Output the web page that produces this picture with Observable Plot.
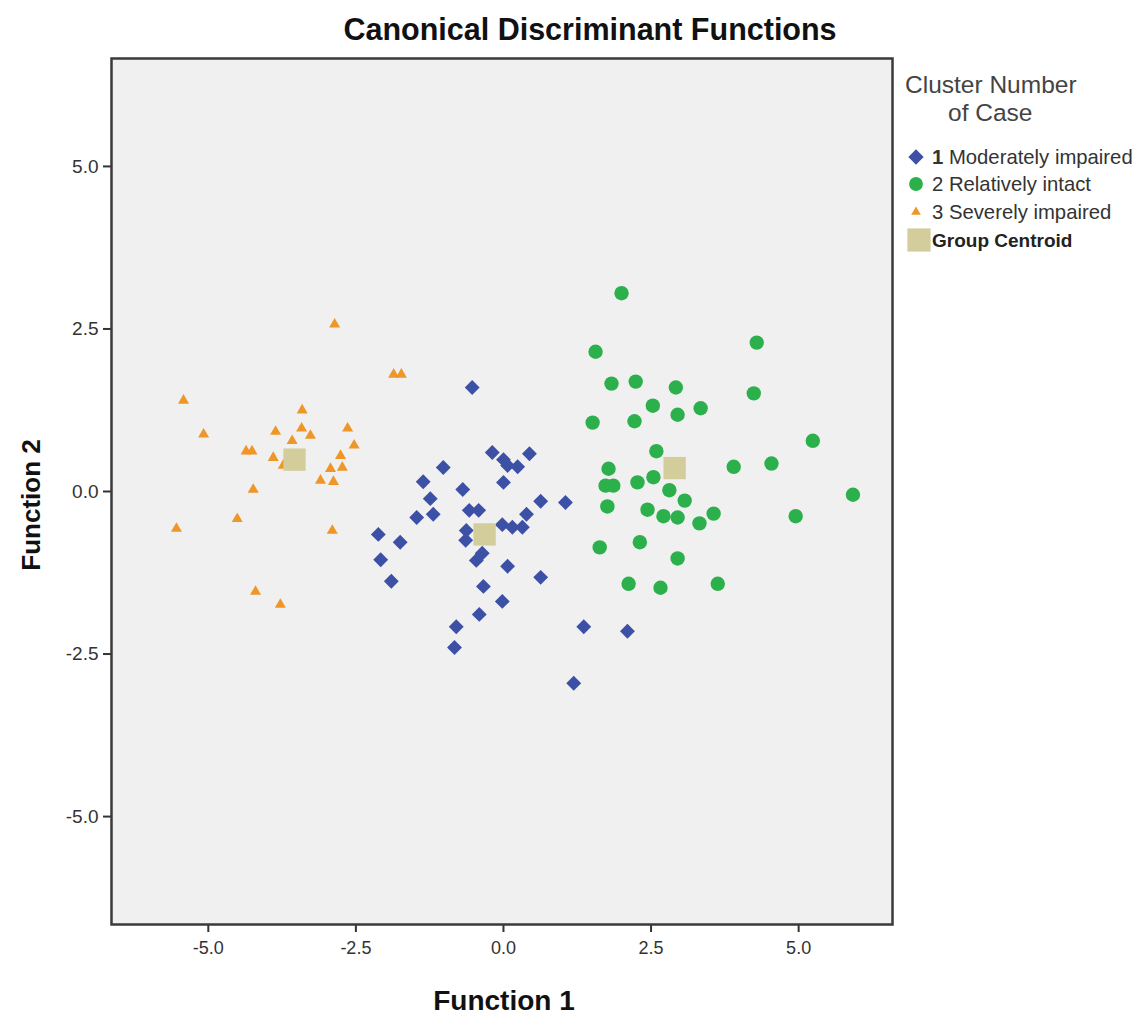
<!DOCTYPE html>
<html>
<head>
<meta charset="utf-8">
<script src="https://cdn.jsdelivr.net/npm/d3@7"></script>
<script src="https://cdn.jsdelivr.net/npm/@observablehq/plot@0.6"></script>
<style>
  body { margin: 0; background: #fff; }
  #wrap { position: relative; width: 1143px; height: 1017px; overflow: hidden; }
  #chart, #overlay { position: absolute; left: 0; top: 0; }
  #overlay { pointer-events: none; }
  text { font-family: "Liberation Sans", Arial, sans-serif; }
</style>
</head>
<body>
<div id="wrap">
  <div id="chart"></div>
  <svg id="overlay" width="1143" height="1017"></svg>
</div>
<script>
// ---- Data ----
const groupNames = ["1 Moderately impaired", "2 Relatively intact", "3 Severely impaired", "Group Centroid"];
const xTicks = [-5, -2.5, 0, 2.5, 5];
const yTicks = [-5, -2.5, 0, 2.5, 5];

const moderateX = [-0.53, -0.19, 0.00, 0.07, 0.24, 0.44, 0.00, -1.02, -1.36, -1.24, -0.69, -1.47, -1.19, -0.58, -0.42, -0.63, -0.64, -0.02, 0.15, 0.32, 0.39, 0.63, 1.05, -2.12, -1.75, -2.08, -1.90, -0.46, -0.36, 0.07, 0.63, -0.34, -0.02, -0.41, -0.80, -0.83, 1.36, 1.19, 2.10];
const moderateY = [1.60, 0.60, 0.49, 0.40, 0.38, 0.58, 0.14, 0.37, 0.15, -0.11, 0.03, -0.40, -0.35, -0.29, -0.29, -0.60, -0.75, -0.51, -0.55, -0.55, -0.35, -0.15, -0.17, -0.66, -0.78, -1.05, -1.38, -1.06, -0.95, -1.15, -1.32, -1.46, -1.69, -1.89, -2.08, -2.40, -2.08, -2.95, -2.15];

const intactX = [2.00, 1.56, 1.83, 2.24, 2.92, 2.53, 2.95, 3.34, 1.51, 2.22, 2.59, 1.78, 1.73, 1.86, 2.27, 2.54, 2.81, 3.07, 1.76, 2.44, 2.71, 2.95, 3.56, 3.32, 3.90, 4.54, 4.29, 4.24, 1.63, 2.31, 2.95, 2.12, 2.66, 3.63, 5.24, 5.92, 4.95];
const intactY = [3.05, 2.15, 1.66, 1.69, 1.60, 1.32, 1.18, 1.28, 1.06, 1.08, 0.62, 0.35, 0.09, 0.09, 0.14, 0.22, 0.02, -0.14, -0.23, -0.28, -0.38, -0.40, -0.34, -0.49, 0.38, 0.43, 2.29, 1.51, -0.86, -0.78, -1.03, -1.42, -1.48, -1.42, 0.78, -0.05, -0.38];

const severeX = [-2.86, -1.86, -1.73, -5.42, -5.08, -3.41, -3.86, -3.42, -3.27, -3.58, -2.64, -2.53, -4.36, -4.26, -3.90, -2.76, -2.73, -2.93, -3.10, -2.88, -3.73, -4.24, -4.51, -5.54, -2.90, -4.20, -3.78];
const severeY = [2.57, 1.80, 1.80, 1.40, 0.88, 1.25, 0.92, 0.97, 0.86, 0.78, 0.97, 0.71, 0.62, 0.62, 0.52, 0.55, 0.37, 0.35, 0.17, 0.15, 0.40, 0.03, -0.42, -0.57, -0.60, -1.54, -1.74];

const centroidX = [-0.32, 2.90, -3.54];
const centroidY = [-0.66, 0.36, 0.49];

// ---- Styles ----
const colors = { moderate: "#3c51a6", intact: "#2cb04b", severe: "#ef9629", centroid: "#d3cd9c" };

const toRows = (xs, ys) => xs.map((x, i) => ({ x, y: ys[i] }));
const moderate = toRows(moderateX, moderateY);
const intact = toRows(intactX, intactY);
const severe = toRows(severeX, severeY);
const centroids = toRows(centroidX, centroidY);

const fmt = d => d.toFixed(1);

const chart = Plot.plot({
  width: 1143,
  height: 1017,
  marginLeft: 111,
  marginRight: 251,
  marginTop: 58,
  marginBottom: 93,
  style: { fontFamily: "Liberation Sans, Arial, sans-serif", background: "transparent", color: "#333" },
  x: { domain: [-6.64, 6.59] },
  y: { domain: [-6.66, 6.66] },
  marks: [
    Plot.frame({ fill: "#f0f0f0" }),
    Plot.axisX({ ticks: xTicks, tickFormat: fmt, tickSize: 8, tickPadding: 9, strokeWidth: 2, fontSize: 18, label: null, color: "#333" }),
    Plot.axisY({ ticks: yTicks, tickFormat: fmt, tickSize: 8, tickPadding: 5, strokeWidth: 2, fontSize: 19, label: null, color: "#333" }),
    Plot.dot(moderate, { x: "x", y: "y", symbol: "diamond2", r: 6.7, fill: colors.moderate, stroke: "none" }),
    Plot.dot(intact, { x: "x", y: "y", symbol: "circle", r: 7.2, fill: colors.intact, stroke: "none" }),
    Plot.dot(severe, { x: "x", y: "y", symbol: "triangle", r: 4.1, fill: colors.severe, stroke: "none" }),
    Plot.dot(centroids, { x: "x", y: "y", symbol: "square", r: 12.6, fill: colors.centroid, stroke: "none" }),
    Plot.frame({ stroke: "#3a3a3a", strokeWidth: 2.5 })
  ]
});
document.getElementById("chart").appendChild(chart);

// ---- Title, axis titles and legend (overlay) ----
const ov = d3.select("#overlay");
ov.append("text").attr("x", 590).attr("y", 40).attr("text-anchor", "middle")
  .attr("font-size", 30.5).attr("font-weight", "bold").attr("fill", "#111")
  .text("Canonical Discriminant Functions");
ov.append("text").attr("x", 504).attr("y", 1010).attr("text-anchor", "middle")
  .attr("font-size", 28).attr("font-weight", "bold").attr("fill", "#111")
  .text("Function 1");
ov.append("text").attr("transform", "translate(40,505) rotate(-90)").attr("text-anchor", "middle")
  .attr("font-size", 26).attr("font-weight", "bold").attr("fill", "#111")
  .text("Function 2");

// legend
ov.append("text").attr("x", 905).attr("y", 93).attr("font-size", 24.5).attr("fill", "#444").text("Cluster Number");
ov.append("text").attr("x", 948).attr("y", 121).attr("font-size", 24.5).attr("fill", "#444").text("of Case");

const legendRows = [
  { label: groupNames[0], cy: 157, sym: d3.symbolDiamond2, size: 150, color: colors.moderate },
  { label: groupNames[1], cy: 184, sym: d3.symbolCircle, size: 150, color: colors.intact },
  { label: groupNames[2], cy: 212, sym: d3.symbolTriangle, size: 40, color: colors.severe },
  { label: groupNames[3], cy: 240, sym: d3.symbolSquare, size: 540, color: colors.centroid }
];
legendRows.forEach((r, i) => {
  ov.append("path").attr("d", d3.symbol(r.sym, r.size)()).attr("fill", r.color)
    .attr("transform", `translate(${i === 3 ? 919 : 916},${r.cy})`);
  const t = ov.append("text").attr("x", 932).attr("y", r.cy + 7).attr("font-size", 20.3).attr("fill", "#333");
  if (i === 3) {
    t.attr("font-weight", "bold").attr("font-size", 19).attr("fill", "#222").text(r.label);
  } else {
    const [num, ...rest] = r.label.split(" ");
    t.append("tspan").attr("font-weight", i === 0 ? "bold" : "normal").text(num);
    t.append("tspan").text(" " + rest.join(" "));
  }
});
</script>
</body>
</html>
